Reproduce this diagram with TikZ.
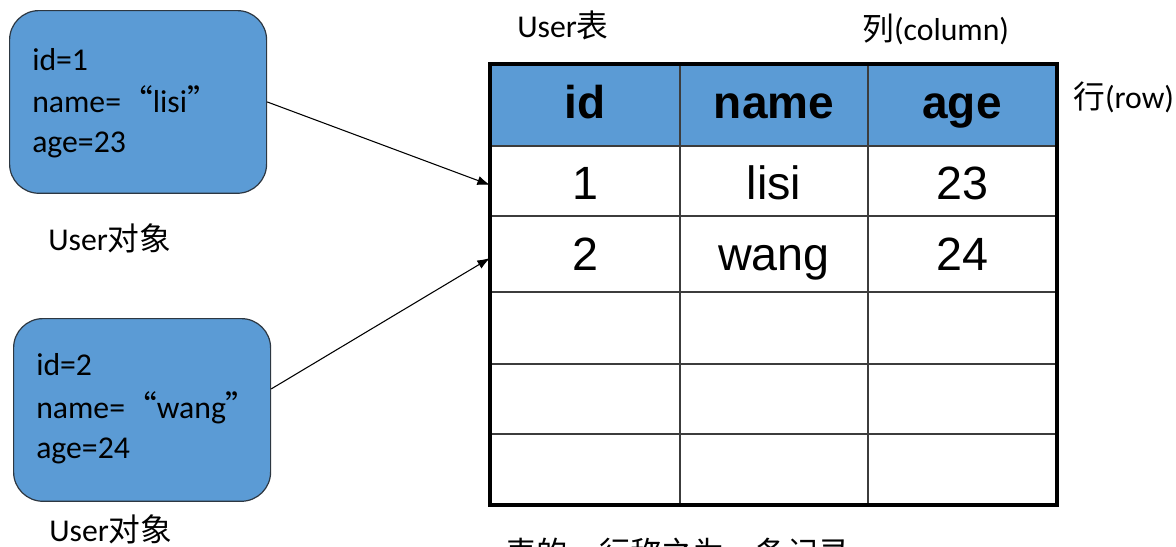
\documentclass[tikz,border=0pt]{standalone}
\usepackage{fontspec}
\setmainfont{Carlito}
\newfontfamily\cjk{Noto Sans CJK SC}
\newfontfamily\arial{Liberation Sans}
\usetikzlibrary{arrows.meta,calc}
\definecolor{boxblue}{RGB}{91,155,213}
\definecolor{boxedge}{RGB}{45,55,65}
\definecolor{gridline}{RGB}{60,60,60}
\begin{document}
\begin{tikzpicture}[x=0.75pt,y=-0.75pt,
  objbox/.style={draw=boxedge, line width=0.9pt, fill=boxblue, rounded corners=22pt,
    minimum width=192.75pt, minimum height=137pt, inner sep=0pt, anchor=north west},
  txt/.style={anchor=base west, inner sep=0pt, font=\fontsize{23.8}{28}\selectfont},
  hdr/.style={anchor=base, inner sep=0pt, font=\arial\bfseries\fontsize{34.5}{40}\selectfont},
  cell/.style={anchor=base, inner sep=0pt, font=\arial\fontsize{35}{40}\selectfont},
  thinline/.style={draw=gridline, line width=1pt},
  thickline/.style={draw=black, line width=2.4pt},
  conn/.style={-{Latex[length=9.5pt,width=7pt]}, line width=0.8pt}]
\useasboundingbox (0,0) rectangle (1176,546);

% object boxes
\node[objbox] (b1) at (9,10) {};
\node[txt] (t11) at (32,70) {id=1};
\node[txt] (t12) at (32,112) {name={\cjk “}lisi{\cjk ”}};
\node[txt] (t13) at (32,152) {age=23};
\node[txt] (lab1) at (48,250) {User{\cjk 对象}};

\node[objbox] (b2) at (13,318) {};
\node[txt] (t21) at (36,375) {id=2};
\node[txt] (t22) at (36,418) {name={\cjk “}wang{\cjk ”}};
\node[txt] (t23) at (36,458) {age=24};
\node[txt] (lab2) at (49,541) {User{\cjk 对象}};

% table
\fill[boxblue] (490,64) rectangle (1057,146);
\draw[thinline] (680,64) -- (680,505);
\draw[thinline] (868,64) -- (868,505);
\foreach \yy in {146,216,292,364,434} \draw[thinline] (490,\yy) -- (1057,\yy);
\draw[thickline] (490,64) rectangle (1057,505);

\node[hdr] (hid) at (585,118) {id};
\node[hdr] (hname) at (774,118) {name};
\node[hdr] (hage) at (962,118) {age};
\node[cell] (c11) at (585,199) {1};
\node[cell] (c12) at (774,199) {lisi};
\node[cell] (c13) at (962,199) {23};
\node[cell] (c21) at (585,270) {2};
\node[cell] (c22) at (774,270) {wang};
\node[cell] (c23) at (962,270) {24};

% labels
\node[txt] (tbl) at (517,37) {User{\cjk 表}};
\node[txt] (col) at (862,40) {{\cjk 列}(column)};
\node[txt] (row) at (1073,108) {{\cjk 行}(row)};
\node[anchor=base west, inner sep=0pt, font=\cjk\fontsize{23.5}{28}\selectfont] (note) at (505,564) {表的一行称之为一条记录};

% connectors
\coordinate (r1) at (490,185);
\coordinate (r2) at (490,258);
\draw[conn] (b1.east) -- (r1);
\draw[conn] ($(b2.east)+(0,-21)$) -- (r2);
\end{tikzpicture}
\end{document}
